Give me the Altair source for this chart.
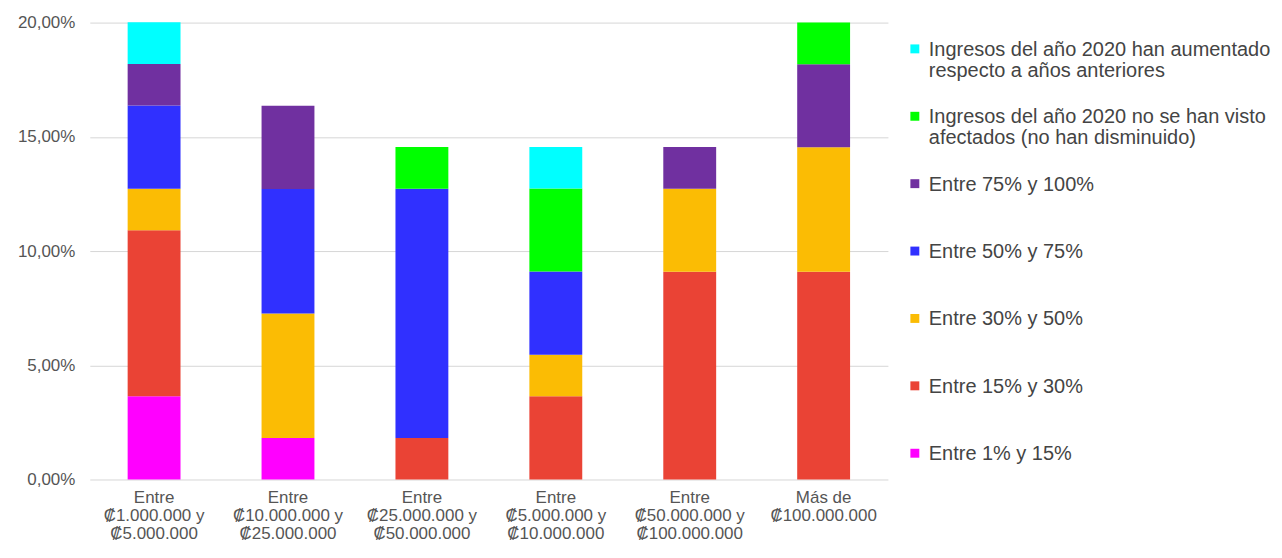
import altair as alt
import pandas as pd

categories = [
    "Entre|₡1.000.000 y|₡5.000.000",
    "Entre|₡10.000.000 y|₡25.000.000",
    "Entre|₡25.000.000 y|₡50.000.000",
    "Entre|₡5.000.000 y|₡10.000.000",
    "Entre|₡50.000.000 y|₡100.000.000",
    "Más de|₡100.000.000",
]

# stack order, bottom -> top
series = [
    "Entre 1% y 15%",
    "Entre 15% y 30%",
    "Entre 30% y 50%",
    "Entre 50% y 75%",
    "Entre 75% y 100%",
    "Ingresos del año 2020 no se han visto\nafectados (no han disminuido)",
    "Ingresos del año 2020 han aumentado\nrespecto a años anteriores",
]
colors = ["#ff00ff", "#ea4335", "#fbbc04", "#3030ff", "#7030a0", "#00ff00", "#00ffff"]

# percentages per category, one list per series
v_1_15 = [3.64, 1.82, 0, 0, 0, 0]
v_15_30 = [7.27, 0, 1.82, 3.64, 9.09, 9.09]
v_30_50 = [1.82, 5.45, 0, 1.82, 3.64, 5.45]
v_50_75 = [3.64, 5.45, 10.91, 3.64, 0, 0]
v_75_100 = [1.82, 3.64, 0, 0, 1.82, 3.64]
v_igual = [0, 0, 1.82, 3.64, 0, 1.82]
v_aumento = [1.82, 0, 0, 1.82, 0, 0]
all_values = [v_1_15, v_15_30, v_30_50, v_50_75, v_75_100, v_igual, v_aumento]

rows = []
for si, (s, vals) in enumerate(zip(series, all_values)):
    for c, v in zip(categories, vals):
        if v > 0:
            rows.append({"cat": c, "serie": s, "idx": si, "value": v / 100})
df = pd.DataFrame(rows)

legend_df = pd.DataFrame({"serie": series, "idx": list(range(len(series)))})

FONT = "Liberation Sans"
color_scale = alt.Scale(domain=series, range=colors)

bars = alt.Chart(df).mark_bar(size=53).encode(
    x=alt.X("cat:N", sort=categories, title=None,
            scale=alt.Scale(paddingInner=0.6, paddingOuter=0.28),
            axis=alt.Axis(labelAngle=0, labelExpr="split(datum.label, '|')",
                          labelFontSize=17, labelColor="#555555", labelFont=FONT,
                          labelLineHeight=18, labelPadding=10, labelBaseline="top",
                          ticks=False, domain=False, grid=False, labelLimit=300)),
    y=alt.Y("value:Q", stack="zero", title=None,
            scale=alt.Scale(domain=[0, 0.2], nice=False),
            axis=alt.Axis(values=[0, 0.05, 0.1, 0.15, 0.2],
                          labelExpr="replace(format(datum.value, '.2%'), '.', ',')",
                          labelFontSize=17, labelColor="#555555", labelFont=FONT,
                          ticks=False, tickSize=0, domain=False, labelPadding=15,
                          gridColor="#d6d6d6", minExtent=77, maxExtent=77)),
    color=alt.Color("serie:N", scale=color_scale, legend=None),
    order=alt.Order("idx:Q", sort="ascending"),
).properties(width=800, height=458)

ypos = alt.Y("serie:N", sort=alt.EncodingSortField("idx", order="descending"),
             scale=alt.Scale(type="point", padding=0.39), axis=None, title=None)

leg_sym = alt.Chart(legend_df).mark_square(size=80, opacity=1).encode(
    x=alt.value(5),
    y=ypos,
    color=alt.Color("serie:N", scale=color_scale, legend=None),
)
leg_txt = alt.Chart(legend_df).mark_text(
    align="left", baseline="alphabetic", dy=7, lineBreak="\n",
    fontSize=20, font=FONT, color="#444444", lineHeight=21,
).encode(
    x=alt.value(19),
    y=ypos,
    text="serie:N",
)
legend_chart = alt.layer(leg_sym, leg_txt).properties(width=365, height=458)

chart = alt.hconcat(bars, legend_chart, spacing=22).properties(
    padding={"left": 5, "top": 5, "right": 0, "bottom": 0}
).configure(background="white").configure_view(stroke=None, strokeWidth=0)

chart.save("out.html", embed_options={"renderer": "svg", "actions": False})
